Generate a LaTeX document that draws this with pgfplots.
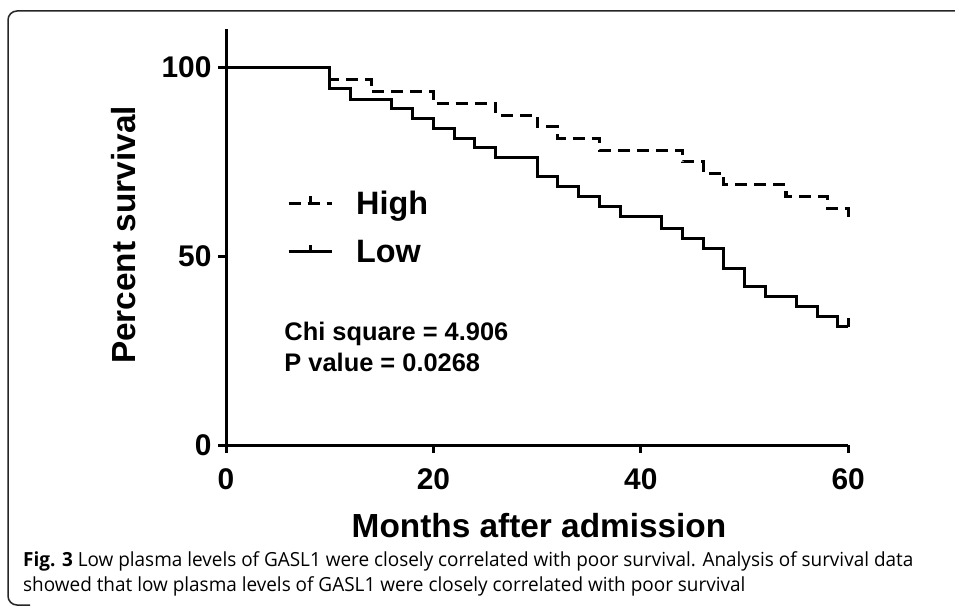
\documentclass[border=0pt]{standalone}
\usepackage{fontspec}
\setmainfont{Liberation Sans}
\newfontfamily\capfont{Open Sans}
\usepackage{pgfplots}
\pgfplotsset{compat=1.18}
\begin{document}
\begin{tikzpicture}[x=1bp,y=1bp]
\useasboundingbox (0,0) rectangle (955,-607);
\fill[white] (0,0) rectangle (955,-607);
\draw[line width=1.5bp, black!85, rounded corners=9bp] (960,-11) -- (8,-11) -- (8,-605) -- (30,-605);
\begin{axis}[
  at={(226bp,-445bp)}, anchor=origin,
  x=10.37bp, y=3.78bp,
  xmin=0, xmax=60, ymin=0, ymax=110,
  axis x line*=bottom, axis y line*=left,
  axis line style={line width=3bp, black},
  xtick={0,20,40,60}, ytick={0,50,100},
  tick align=outside, major tick length=8bp,
  tick style={line width=3bp, black},
  ticklabel style={font=\bfseries\fontsize{30}{30}\selectfont},
  xticklabel style={yshift=-12bp},
  yticklabel style={xshift=-3bp},
  /pgf/number format/assume math mode=true,
  clip=false,
  legend cell align=left,
  legend style={draw=none, fill=none, at={(axis cs:5.88,57.6)}, anchor=west,
    font=\bfseries\fontsize{32.5}{32.5}\selectfont, row sep=24bp, inner sep=0pt,
    nodes={inner sep=0pt},
    /tikz/every odd column/.style={column sep=23bp}},
  legend image code/.code={\draw[#1] (0bp,0bp) -- (43bp,0bp); \draw[#1,solid] (21.5bp,0bp) -- (21.5bp,7bp);},
]
\addplot[const plot, line width=3bp, black, dash pattern=on 12bp off 7bp] coordinates {
(0,100) (10,96.6) (14,93.5) (20,90.4) (26,87.3) (30,84.2) (32,81.1) (36,78.0)
(44,74.9) (46,71.9) (48,68.8) (54,65.7) (58,62.6) (60,59.5)};
\addlegendentry{High}
\addplot[const plot, line width=3bp, black] coordinates {
(0,100) (10,94.4) (12,91.5) (16,89.1) (18,86.4) (20,83.8) (22,81.1) (24,78.7)
(26,76.1) (30,71.0) (32,68.3) (34,65.7) (36,63.0) (38,60.4) (42,57.3) (44,54.7)
(46,52.0) (48,46.7) (50,41.9) (52,39.2) (55,36.6) (57,33.9) (59,31.3) (60,31.3)};
\addlegendentry{Low}
\addplot[line width=3bp, black, forget plot] coordinates {(60,31.3) (60,33.6)};
\node[anchor=base west, font=\bfseries\fontsize{25.5}{25.5}\selectfont] at (axis cs:5.3,27.6) {Chi square = 4.906};
\node[anchor=base west, font=\bfseries\fontsize{25.5}{25.5}\selectfont] at (axis cs:5.3,19.4) {P value = 0.0268};
\end{axis}
\node[rotate=90, anchor=base, font=\bfseries\fontsize{33.5}{33.5}\selectfont] at (135,-235) {Percent survival};
\node[anchor=base, font=\bfseries\fontsize{33.5}{33.5}\selectfont] at (539,-537) {Months after admission};
\node[anchor=base west, inner sep=0pt, font=\capfont\fontsize{19.5}{19.5}\selectfont] at (23,-566.7) {\scalebox{0.975}[1]{\textbf{Fig. 3} Low plasma levels of GASL1 were closely correlated with poor survival. Analysis of survival data}};
\node[anchor=base west, inner sep=0pt, font=\capfont\fontsize{19.5}{19.5}\selectfont] at (23,-591.7) {\scalebox{0.975}[1]{showed that low plasma levels of GASL1 were closely correlated with poor survival}};
\end{tikzpicture}
\end{document}
